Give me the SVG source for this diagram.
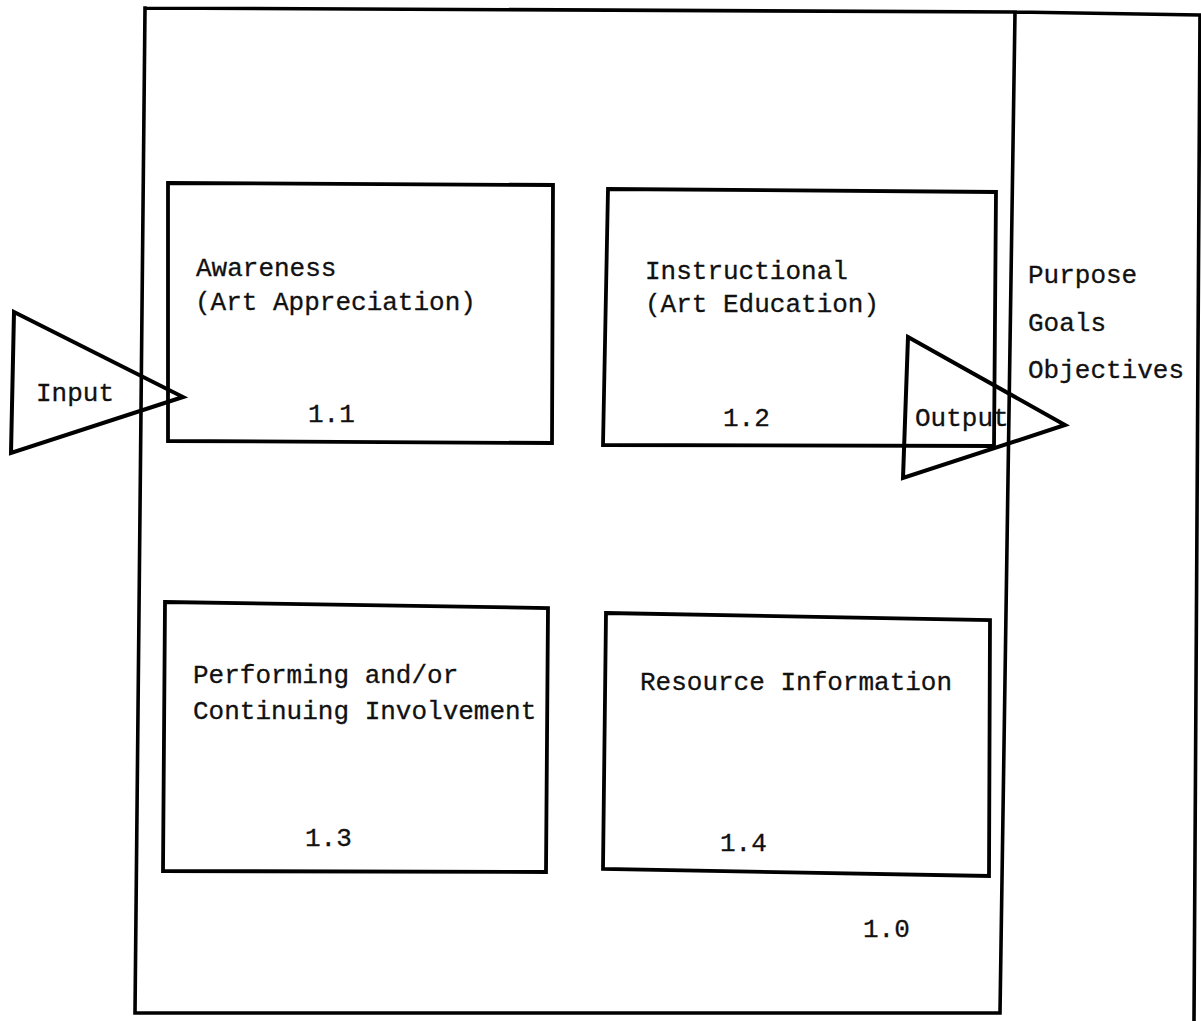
<svg xmlns="http://www.w3.org/2000/svg" width="1201" height="1021" viewBox="0 0 1201 1021">
<style>
.ln{fill:none;stroke:#000;stroke-width:3.6;stroke-linejoin:miter;stroke-linecap:square}
.bx{fill:none;stroke:#000;stroke-width:3.8}
.tri{fill:none;stroke:#000;stroke-width:4;stroke-linejoin:miter}
.t{font-family:"Liberation Mono","Courier New",monospace;font-size:26px;fill:#111;stroke:#111;stroke-width:0.3}
</style>
<rect width="1201" height="1021" fill="#fff"/>
<g id="system-1.0">
<path class="ln" d="M145,8 L1015,12 L1200,15 M145,8 L135,1013 L1000,1013 L1015,12 M1200,15 L1194,1021"/>
<text class="t" x="863" y="937">1.0</text>
</g>
<g id="node-1.1">
<path class="bx" d="M168,183 L553,185 L552,443 L168,441 Z"/>
<text class="t" x="196" y="276">Awareness</text>
<text class="t" x="195" y="310">(Art Appreciation)</text>
<text class="t" x="308" y="422">1.1</text>
</g>
<g id="node-1.2">
<path class="bx" d="M608,189 L996,192 L994,446 L603,445 Z"/>
<text class="t" x="645" y="279">Instructional</text>
<text class="t" x="645" y="312">(Art Education)</text>
<text class="t" x="723" y="426">1.2</text>
</g>
<g id="node-1.3">
<path class="bx" d="M165,602 L548,608 L546,872 L163,871 Z"/>
<text class="t" x="193" y="683">Performing and/or</text>
<text class="t" x="193" y="719">Continuing Involvement</text>
<text class="t" x="305" y="846">1.3</text>
</g>
<g id="node-1.4">
<path class="bx" d="M606,613 L990,620 L989,876 L603,869 Z"/>
<text class="t" x="640" y="690">Resource Information</text>
<text class="t" x="720" y="851">1.4</text>
</g>
<g id="input">
<path class="tri" d="M14,312 L183,397 L11,453 Z"/>
<text class="t" x="36" y="401">Input</text>
</g>
<g id="output">
<path class="tri" d="M908,337 L1065,425 L903,478 Z"/>
<text class="t" x="915" y="426">Output</text>
</g>
<g id="results">
<text class="t" x="1028" y="283">Purpose</text>
<text class="t" x="1028" y="331">Goals</text>
<text class="t" x="1028" y="378">Objectives</text>
</g>
<g id="connectors"></g>
</svg>
